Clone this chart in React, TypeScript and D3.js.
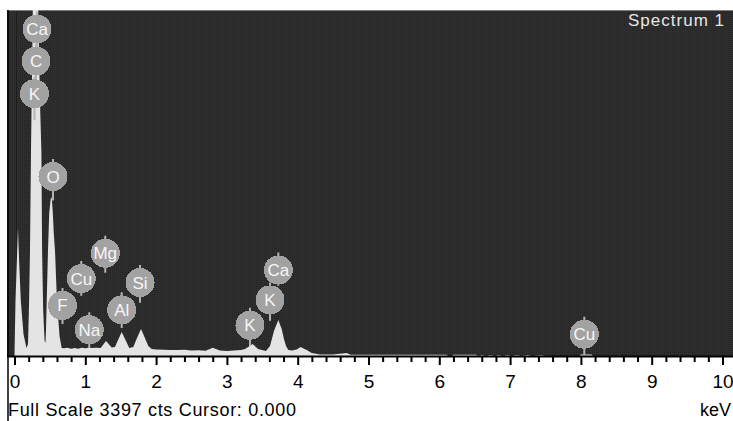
import * as d3 from "d3";
import { useEffect, useRef } from "react";

// spectrum: energy (keV) and counts
const specKeV = [
  0.0, 0.014, 0.032, 0.049, 0.066, 0.089, 0.127, 0.169,
  0.191, 0.205, 0.219, 0.233, 0.252, 0.27, 0.3, 0.335, 0.36, 0.38, 0.39, 0.405, 0.425,
  0.437, 0.445, 0.455, 0.473, 0.49, 0.51, 0.525, 0.54, 0.555, 0.572, 0.6, 0.636, 0.666,
  0.7, 0.75, 0.8, 0.85, 0.9, 0.95, 1.0, 1.05, 1.1, 1.15,
  1.217, 1.292, 1.373, 1.419, 1.469, 1.514, 1.568, 1.621,
  1.678, 1.73, 1.787, 1.836, 1.89, 1.938,
  2.0, 2.1, 2.2, 2.3, 2.4, 2.5, 2.6, 2.7, 2.8, 2.9, 3.0, 3.1, 3.2,
  3.256, 3.364, 3.439, 3.552,
  3.609, 3.665, 3.726, 3.774, 3.806, 3.835, 3.867,
  3.92, 3.986, 4.042, 4.082, 4.127, 4.198, 4.315,
  4.5, 4.69, 4.75, 5.0, 5.5, 6.0, 6.1, 6.13, 6.18, 6.2, 6.52, 6.55, 6.6, 6.66, 6.72, 6.78,
  6.84, 6.9, 6.96, 7.02, 7.1, 7.16, 7.25, 7.3, 7.45, 7.5, 7.56,
  7.98, 8.0, 8.15, 8.17, 10.0,
];
const specCounts = [
  20, 542, 916, 1260, 916, 542, 217, 79,
  118, 500, 1034, 2020, 3000, 4200, 4400, 3400, 2500, 2000, 1034, 450, 150,
  128, 250, 541, 1034, 1400, 1540, 1560, 1420, 1200, 1034, 541, 197, 79,
  75, 80, 70, 78, 72, 80, 75, 82, 78, 80,
  79, 148, 84, 89, 167, 236, 158, 79,
  89, 177, 266, 187, 98, 69,
  65, 62, 60, 58, 62, 55, 57, 52, 80, 55, 50, 55, 58,
  69, 118, 69, 49,
  98, 246, 354, 266, 167, 98, 59,
  54, 64, 89, 74, 59, 30, 15,
  14, 30, 13, 13, 12, 12, 13, 0, 0, 13, 12, 0, 10, 0, 10, 0,
  10, 0, 10, 0, 10, 0, 10, 0, 8, 0, 0,
  0, 14, 14, 0, 0,
];

// element markers
const labelNames = ["Ca", "C", "K", "O", "Mg", "Cu", "F", "Si", "Al", "Na", "Ca", "K", "K", "Cu"];
const labelKeV = [0.318, 0.304, 0.282, 0.544, 1.282, 0.943, 0.678, 1.773, 1.514, 1.056, 3.726, 3.609, 3.326, 8.048];
const labelCounts = [3210, 2895, 2575, 1762, 1009, 760, 497, 722, 453, 258, 844, 551, 302, 214];
const stemEndCounts = [2895, 2575, 2314, 1526, 817, 591, 315, 522, 276, 79, 690, 345, 98, 0];

const majorTicks = [0, 1, 2, 3, 4, 5, 6, 7, 8, 9, 10];
const minorTicks = [
  0.2, 0.4, 0.6, 0.8, 1.2, 1.4, 1.6, 1.8, 2.2, 2.4, 2.6, 2.8, 3.2, 3.4, 3.6, 3.8,
  4.2, 4.4, 4.6, 4.8, 5.2, 5.4, 5.6, 5.8, 6.2, 6.4, 6.6, 6.8, 7.2, 7.4, 7.6, 7.8,
  8.2, 8.4, 8.6, 8.8, 9.2, 9.4, 9.6, 9.8,
];
const fullScale = 3397;

export default function App() {
  const svgRef = useRef<SVGSVGElement | null>(null);

  useEffect(() => {
    if (!svgRef.current) return;
    const svg = d3.select(svgRef.current);
    svg.selectAll("*").remove();

    const totalW = 733;
    const totalH = 421;
    const plot = { left: 7, right: 733, top: 10, axis: 356.5 };
    const font = "'Liberation Sans', Arial, sans-serif";

    svg.attr("width", totalW).attr("height", totalH);

    const xScale = d3.scaleLinear().domain([0, 10]).range([14.5, 722.5]);
    const yScale = d3.scaleLinear().domain([0, fullScale]).range([356, plot.top]);

    const defs = svg.append("defs");
    const pat = defs
      .append("pattern")
      .attr("id", "dots")
      .attr("width", 2)
      .attr("height", 2)
      .attr("patternUnits", "userSpaceOnUse");
    pat.append("rect").attr("width", 2).attr("height", 2).attr("fill", "#2e2e2e");
    pat.append("rect").attr("width", 1).attr("height", 1).attr("fill", "#242424");

    defs
      .append("clipPath")
      .attr("id", "plotClip")
      .append("rect")
      .attr("x", plot.left)
      .attr("y", plot.top)
      .attr("width", plot.right - plot.left)
      .attr("height", plot.axis - plot.top);

    svg.append("rect").attr("width", totalW).attr("height", totalH).attr("fill", "#fff");

    // dark plot panel
    svg
      .append("rect")
      .attr("x", plot.left)
      .attr("y", plot.top)
      .attr("width", plot.right - plot.left)
      .attr("height", plot.axis - plot.top)
      .attr("fill", "url(#dots)");
    svg
      .append("line")
      .attr("x1", plot.left)
      .attr("x2", plot.right)
      .attr("y1", plot.top + 0.5)
      .attr("y2", plot.top + 0.5)
      .attr("stroke", "#7c7c7c");
    svg
      .append("line")
      .attr("x1", 16.5)
      .attr("x2", 16.5)
      .attr("y1", plot.top + 1)
      .attr("y2", plot.axis)
      .attr("stroke", "#1e1e1e");

    // spectrum
    const pts = specKeV.map((k, i) => [k, specCounts[i]] as [number, number]);
    const area = d3
      .area<[number, number]>()
      .x((d) => xScale(d[0]))
      .y0(yScale(0))
      .y1((d) => yScale(d[1]));
    svg
      .append("path")
      .datum(pts)
      .attr("clip-path", "url(#plotClip)")
      .attr("fill", "#e4e4e4")
      .attr("d", area);

    // element markers
    const r = 14.5;
    const lg = svg.append("g").attr("clip-path", "url(#plotClip)");
    labelNames.forEach((_, i) => {
      const cx = xScale(labelKeV[i]);
      const cy = yScale(labelCounts[i]);
      lg.append("line")
        .attr("x1", cx)
        .attr("x2", cx)
        .attr("y1", cy - r - 3)
        .attr("y2", yScale(stemEndCounts[i]))
        .attr("stroke", "#b4b4b4")
        .attr("stroke-width", 2);
    });
    labelNames.forEach((name, i) => {
      const cx = xScale(labelKeV[i]);
      const cy = yScale(labelCounts[i]);
      lg.append("circle")
        .attr("cx", cx)
        .attr("cy", cy)
        .attr("r", r)
        .attr("fill", "#a2a2a2")
        .attr("shape-rendering", "crispEdges");
      lg.append("text")
        .attr("x", cx)
        .attr("y", cy)
        .attr("dy", "0.36em")
        .attr("text-anchor", "middle")
        .attr("font-family", font)
        .attr("font-size", 17)
        .attr("fill", "#f6f6f6")
        .text(name);
    });

    svg
      .append("text")
      .attr("x", 724)
      .attr("y", 26)
      .attr("text-anchor", "end")
      .attr("font-family", font)
      .attr("font-size", 17)
      .attr("textLength", 96)
      .attr("fill", "#e6e6e6")
      .text("Spectrum 1");

    // axis
    svg
      .append("line")
      .attr("x1", plot.left)
      .attr("x2", plot.right)
      .attr("y1", plot.axis)
      .attr("y2", plot.axis)
      .attr("stroke", "#000")
      .attr("stroke-width", 2);
    svg
      .append("line")
      .attr("x1", 8)
      .attr("x2", 8)
      .attr("y1", plot.top)
      .attr("y2", totalH)
      .attr("stroke", "#000")
      .attr("stroke-width", 1.5);

    const minorAxis = svg
      .append("g")
      .attr("transform", `translate(0,${plot.axis})`)
      .call(d3.axisBottom(xScale).tickValues(minorTicks).tickSize(5.5).tickFormat(() => ""));
    const majorAxis = svg
      .append("g")
      .attr("transform", `translate(0,${plot.axis})`)
      .call(d3.axisBottom(xScale).tickValues(majorTicks).tickSize(8.5).tickPadding(10).tickFormat(d3.format("d")));
    [minorAxis, majorAxis].forEach((g) => {
      g.select(".domain").remove();
      g.selectAll(".tick line").attr("stroke", "#000").attr("stroke-width", 2);
    });
    majorAxis
      .selectAll(".tick text")
      .attr("font-family", font)
      .attr("font-size", 19)
      .attr("fill", "#000");

    svg
      .append("text")
      .attr("x", 8)
      .attr("y", 416)
      .attr("font-family", font)
      .attr("font-size", 18)
      .attr("textLength", 288)
      .attr("fill", "#000")
      .text(`Full Scale ${fullScale} cts Cursor: 0.000`);
    svg
      .append("text")
      .attr("x", 731)
      .attr("y", 416)
      .attr("text-anchor", "end")
      .attr("font-family", font)
      .attr("font-size", 18)
      .attr("fill", "#000")
      .text("keV");
  }, []);

  return <svg ref={svgRef} style={{ position: "absolute", left: 0, top: 0 }} />;
}
